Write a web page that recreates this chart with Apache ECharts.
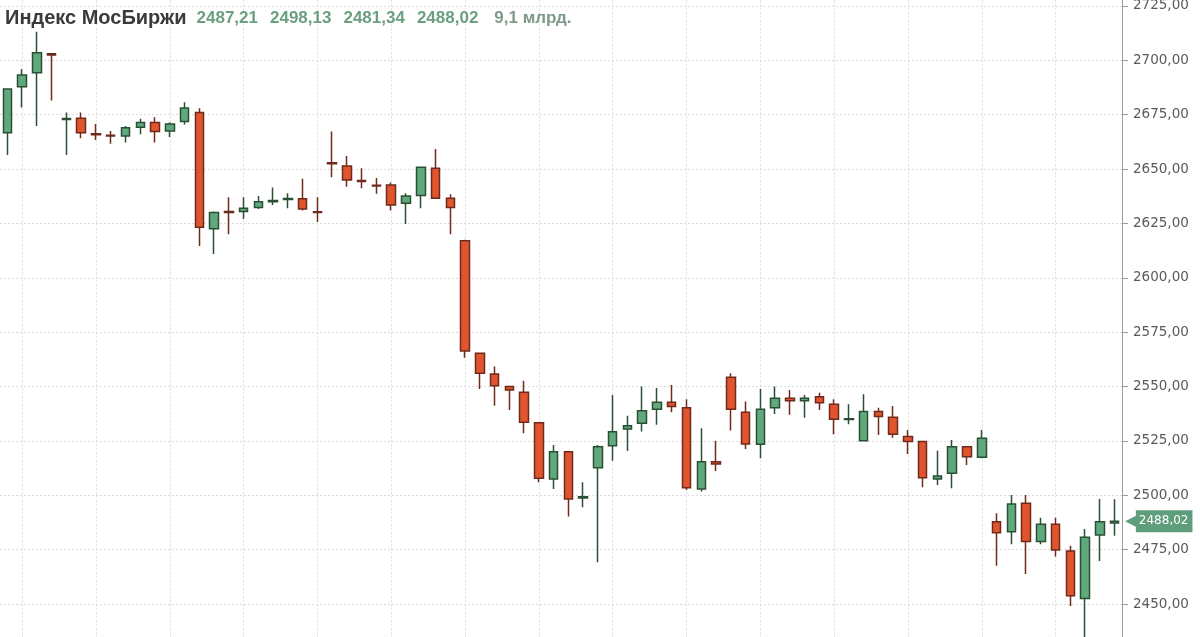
<!DOCTYPE html>
<html>
<head>
<meta charset="utf-8">
<script src="https://cdn.jsdelivr.net/npm/echarts@6/dist/echarts.min.js"></script>
<style>
html,body{margin:0;padding:0;background:#fff;}
#chart{width:1200px;height:637px;}
</style>
</head>
<body>
<div id="chart"></div>
<script>
// ---- data ----
const chartTitle = 'Индекс МосБиржи';
const volumeText = '9,1 млрд.';
const opens  = [2666.7,2687.9,2694.3,2703.0,2672.8,2673.4,2666.2,2665.6,2665.2,2669.2,2671.4,2667.5,2671.9,2676.0,2622.6,2630.5,2630.5,2632.3,2635.0,2636.0,2636.3,2630.4,2652.9,2651.4,2644.8,2642.6,2642.7,2634.3,2637.8,2650.4,2636.6,2617.1,2565.3,2555.8,2550.0,2547.4,2533.4,2507.5,2520.0,2498.8,2512.7,2522.8,2530.5,2533.1,2539.6,2542.8,2540.3,2502.9,2515.4,2554.3,2538.2,2523.5,2540.3,2544.6,2543.5,2545.3,2541.9,2534.8,2525.1,2538.5,2535.9,2527.0,2524.7,2507.5,2510.1,2522.3,2517.5,2487.8,2483.2,2496.3,2478.7,2486.7,2474.4,2452.6,2481.7,2487.21];
const closes = [2686.8,2693.3,2703.5,2702.5,2673.3,2666.7,2665.8,2665.2,2669.0,2671.4,2667.3,2670.7,2678.1,2623.2,2630.0,2630.0,2632.0,2635.0,2635.5,2636.5,2631.7,2630.0,2652.5,2645.0,2644.3,2642.2,2633.5,2637.6,2650.8,2636.6,2632.3,2566.4,2556.1,2550.4,2548.4,2533.6,2507.8,2520.0,2498.3,2499.3,2522.3,2529.2,2532.0,2538.9,2542.8,2540.8,2503.5,2515.4,2514.4,2539.6,2523.6,2539.6,2544.6,2543.5,2544.6,2542.6,2535.0,2535.2,2538.5,2536.2,2528.1,2524.7,2508.1,2508.9,2522.3,2517.7,2526.2,2482.8,2496.0,2478.7,2486.7,2474.8,2453.8,2480.7,2487.8,2488.02];
const lows   = [2656.5,2678.3,2669.8,2681.5,2656.5,2664.2,2663.4,2661.6,2662.2,2666.0,2662.2,2664.7,2670.5,2614.6,2611.0,2620.0,2627.1,2631.7,2633.5,2632.0,2630.9,2625.7,2646.2,2641.9,2641.2,2638.6,2630.9,2624.8,2632.0,2636.4,2620.0,2563.3,2548.9,2541.2,2539.2,2528.5,2506.0,2502.9,2490.2,2494.5,2469.2,2515.9,2520.4,2529.3,2532.4,2538.2,2502.4,2501.7,2511.2,2529.8,2521.3,2517.0,2537.4,2537.0,2535.7,2539.2,2528.1,2532.7,2524.7,2527.7,2526.5,2519.0,2503.7,2504.7,2503.2,2513.9,2517.0,2467.6,2477.5,2463.8,2477.5,2471.8,2449.1,2434.0,2469.8,2481.34];
const highs  = [2687.2,2695.9,2713.2,2703.2,2676.0,2676.0,2670.7,2667.5,2669.8,2673.1,2673.8,2671.5,2680.7,2678.0,2630.5,2637.1,2637.1,2637.6,2641.5,2638.9,2645.5,2637.1,2667.3,2656.0,2650.4,2645.9,2643.8,2638.9,2651.0,2659.2,2638.4,2617.5,2565.5,2559.2,2550.2,2552.7,2533.5,2523.1,2520.2,2506.0,2523.1,2546.1,2536.6,2550.0,2549.3,2550.7,2544.2,2530.8,2525.1,2556.1,2543.1,2548.9,2550.0,2548.4,2546.1,2547.2,2544.2,2541.9,2546.5,2540.3,2541.1,2530.0,2525.0,2520.5,2525.4,2522.5,2530.0,2491.7,2500.1,2500.1,2489.7,2489.7,2476.8,2484.5,2498.3,2498.13];
const categories = closes.map((_, i) => String(i + 1));
const gridCategoryIdx = [1,6,11,16,21,26,31,36,41,46,51,56,61,66,71];
const yMin = 2425, yMax = 2750, yStep = 25;

// ---- helpers ----
const fmt = v => Number(v).toFixed(2).replace('.', ',');
const candles = categories.map((_, i) => [opens[i], closes[i], lows[i], highs[i]]);
const last = candles.length - 1;

const GREEN = '#5fa97c', GREEN_B = '#2b4f34', RED = '#e0552f', RED_B = '#6e2a1b';
const TAG = '#5f9e7c';

const headerValues = [opens[last], highs[last], lows[last], closes[last]].map(fmt);

const chart = echarts.init(document.getElementById('chart'), null, {renderer: 'canvas'});
chart.setOption({
  animation: false,
  backgroundColor: '#ffffff',
  title: {
    left: 0, top: 3,
    text: '{t|' + chartTitle + '}' + headerValues.map(v => '{v|' + v + '}').join('') + '{g|' + volumeText + '}',
    textStyle: {
      rich: {
        t: {fontFamily: 'Liberation Sans, Arial', fontWeight: 'bold', fontSize: 20, color: '#3a3a3a', padding: [0, 10, 0, 0]},
        v: {fontFamily: 'Liberation Sans, Arial', fontSize: 17, color: '#6a9f80', padding: [0, 12, 0, 0]},
        g: {fontFamily: 'Liberation Sans, Arial', fontSize: 17, color: '#7f9a8a', padding: [0, 0, 0, 4]}
      }
    }
  },
  grid: {left: 0, right: 78, top: -48.4, bottom: -21.4, containLabel: false, outerBoundsMode: 'none'},
  xAxis: {
    type: 'category', data: categories, boundaryGap: true,
    axisLine: {show: false}, axisTick: {show: false}, axisLabel: {show: false}, splitLine: {show: false}
  },
  yAxis: {
    type: 'value', position: 'right', min: yMin, max: yMax, interval: yStep,
    axisLine: {show: true, lineStyle: {color: '#9a9a9a', width: 1}},
    axisTick: {show: true, length: 6, lineStyle: {color: '#9a9a9a'}},
    axisLabel: {margin: 11, color: '#5a5a5a', fontFamily: 'DejaVu Sans', fontSize: 13.5, formatter: fmt},
    splitLine: {show: true, lineStyle: {color: '#dcdcdc', type: [2, 2], width: 1}}
  },
  series: [
    {
      type: 'line', data: [], z: 1, silent: true,
      markLine: {
        z: 1, silent: true, symbol: ['none', 'none'], animation: false,
        label: {show: false},
        lineStyle: {color: '#dcdcdc', type: [2, 2], width: 1},
        data: gridCategoryIdx.map(i => ({xAxis: categories[i]}))
      }
    },
    {
      type: 'candlestick', data: candles, z: 3, barWidth: 9,
      itemStyle: {color: GREEN, color0: RED, borderColor: GREEN_B, borderColor0: RED_B, borderWidth: 1.5}
    },
    {
      type: 'line', data: [], z: 5, silent: true,
      markLine: {
        z: 6, silent: true, symbol: ['none', 'none'], animation: false,
        lineStyle: {color: 'rgba(0,0,0,0)', width: 0},
        label: {
          show: true, position: 'end', distance: 3,
          formatter: p => '{a|◀}{b|' + fmt(p.value) + '}',
          rich: {
            a: {color: TAG, fontSize: 18, fontFamily: 'DejaVu Sans', padding: [0, -3, 0, 0]},
            b: {color: '#fff', backgroundColor: TAG, fontSize: 12, fontFamily: 'DejaVu Sans', padding: [5, 4, 5, 3], lineHeight: 13}
          }
        },
        data: [{yAxis: closes[last]}]
      }
    }
  ]
});
</script>
</body>
</html>
